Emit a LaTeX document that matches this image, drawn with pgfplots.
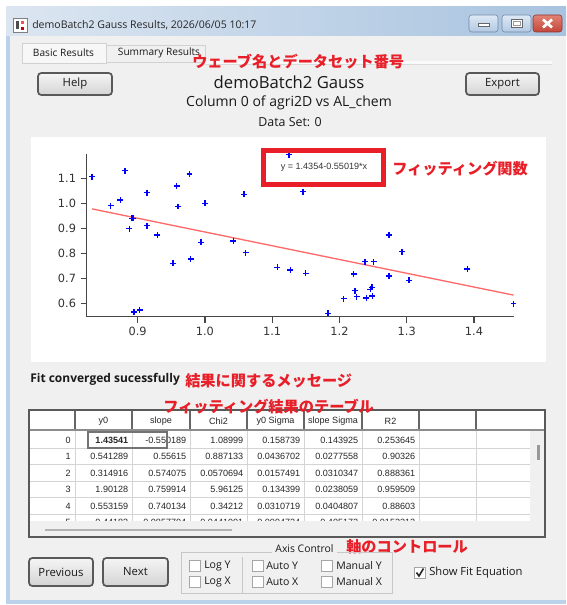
\documentclass[border=0pt]{standalone}
\usepackage{pgfplots}
\pgfplotsset{compat=1.18}
\usepackage{fontspec}
\setmainfont{Liberation Sans}
\newfontfamily\ui{Open Sans}
\newfontfamily\jp{Noto Sans CJK JP}
\newfontfamily\dv{DejaVu Sans}
\definecolor{jred}{RGB}{232,30,40}
\definecolor{bodybg}{RGB}{240,240,240}
\definecolor{frameblue}{RGB}{188,210,234}
\definecolor{titleL}{RGB}{220,230,241}
\definecolor{titleR}{RGB}{168,195,223}
\definecolor{btnB}{RGB}{110,135,165}
\definecolor{btnT}{RGB}{222,233,245}
\definecolor{btnBot}{RGB}{178,200,226}
\definecolor{clsB}{RGB}{140,50,45}
\definecolor{clsT}{RGB}{225,130,115}
\definecolor{clsBot}{RGB}{195,70,60}
\definecolor{ptblue}{RGB}{0,0,255}
\definecolor{fitred}{RGB}{255,105,105}
\definecolor{uitext}{RGB}{25,25,25}
\definecolor{axgray}{RGB}{70,70,70}
\newcommand{\fz}[1]{\fontsize{#1}{#1}\selectfont}
\newcommand{\jptext}[3]{\node[anchor=west,inner sep=0,text=jred,font=\jp\bfseries\fz{11.4pt}] at (#1,#2) {#3};}
\newcommand{\trow}[8]{%
  \node[anchor=east] at (71,#2) {#1};
  \node[anchor=east] at (128.5,#2) {#3};
  \node[anchor=east] at (186.5,#2) {#4};
  \node[anchor=east] at (243.5,#2) {#5};
  \node[anchor=east] at (300.5,#2) {#6};
  \node[anchor=east] at (358.5,#2) {#7};
  \node[anchor=east] at (415.5,#2) {#8};}
\newcommand{\cbox}[2]{\draw[fill=white,draw=black!35,line width=0.75pt] (#1,#2) rectangle ++(11,11);}
\newcommand{\uibutton}[5]{%
  \draw[rounded corners=2.5pt, line width=1.3pt, draw=black!65, top color=black!4, bottom color=black!17] (#1,#2) rectangle (#3,#4);
  \node[font=\ui\fz{8.5pt},text=uitext,inner sep=0] at ({(#1+#3)/2},{(#2+#4)/2}) {#5};}
\begin{document}
\begin{tikzpicture}
\useasboundingbox (0pt,0pt) rectangle (424.5pt,-453.75pt);
\begin{scope}[x=0.75pt,y=-0.75pt]
\fill[white] (0,0) rectangle (566,605);
% window frame
\fill[frameblue] (6,7) rectangle (566,604);
\shade[left color=titleL, right color=titleR] (6,7) rectangle (566,36);
\fill[bodybg] (10,36) rectangle (566,600);
% icon
\draw[fill=white,draw=black!50,line width=0.6pt] (13,18) rectangle (27,32);
\fill[black!70] (16,21) rectangle (19,29);
\fill[red!80!black] (21,27) rectangle (24,30);
\fill[red!70] (21,21) rectangle (24,24);
\node[anchor=west,inner sep=0,font=\ui\fz{7.9pt},text=black!85] at (32,25) {demoBatch2 Gauss Results, 2026/06/05 10:17};
% window buttons
\draw[rounded corners=2pt,draw=btnB,top color=btnT,bottom color=btnBot] (469,15) rectangle (498,32);
\draw[draw=black!60,fill=white,line width=0.5pt] (478,23) rectangle (489,26.5);
\draw[rounded corners=2pt,draw=btnB,top color=btnT,bottom color=btnBot] (502,15) rectangle (531,32);
\draw[draw=black!60,fill=white,line width=0.5pt] (511,19.5) rectangle (522,27.5);
\draw[draw=black!40,line width=0.6pt] (513,21.5) rectangle (520,25.5);
\draw[rounded corners=2pt,draw=clsB,top color=clsT,bottom color=clsBot] (533,15) rectangle (562,32);
\draw[white,line width=2pt] (543,19.5) -- (552,27.5) (543,27.5) -- (552,19.5);
% tabs
\draw[fill=black!3,draw=black!18] (22,43) rectangle (106,63);
\draw[fill=bodybg,draw=black!18] (106,45) rectangle (205,62);
\node[font=\ui\fz{7.6pt},text=uitext,inner sep=0] at (63.5,52.5) {Basic Results};
\node[font=\ui\fz{7.6pt},text=uitext,inner sep=0] at (159,53) {Summary Results};
\fill[black!2] (205,61) rectangle (552,64);
\draw[black!14,line width=0.5pt] (205,64.5) -- (552,64.5);
% header buttons and titles
\uibutton{38}{73}{112}{95}{Help}
\uibutton{466}{73}{539}{95}{Export}
\node[font=\ui\fz{12.5pt},text=uitext,inner sep=0] at (289,82) {demoBatch2 Gauss};
\node[font=\ui\fz{10.5pt},text=uitext,inner sep=0] at (289,103) {Column 0 of agri2D vs AL\_chem};
\node[font=\ui\fz{9.3pt},text=uitext,inner sep=0] at (290,122) {Data Set: 0};
% plot area
\fill[white] (31,137) rectangle (546,362);
\end{scope}

\begin{axis}[
  at={(65.03pt,-237.53pt)}, anchor=south west,
  scale only axis, width=320.1pt, height=122.0pt,
  xmin=0.8242, xmax=1.4588, ymin=0.5464, ymax=1.197,
  axis lines=left, axis line style={-, line width=1pt, draw=axgray},
  xtick={0.9,1.0,1.1,1.2,1.3,1.4}, ytick={0.6,0.7,0.8,0.9,1.0,1.1},
  tick align=outside, major tick length=4.5pt,
  every tick/.style={line width=1pt, axgray},
  minor tick num=0,
  /pgf/number format/assume math mode=true,
  xticklabel style={/pgf/number format/.cd, fixed, fixed zerofill, precision=1},
  yticklabel style={/pgf/number format/.cd, fixed, fixed zerofill, precision=1},
  tick label style={font=\dv\fz{8.5pt}, text=black!80},
  clip=false,
]
\addplot[fitred, line width=1pt, no marks] coordinates {(0.832,0.97766) (1.4587,0.63283)};
\addplot[only marks, mark=+, mark size=2.2pt, draw=ptblue, color=ptblue, mark options={draw=ptblue, solid, line width=1pt}] coordinates {
(0.832,1.106) (0.881,1.130) (0.860,0.990) (0.874,1.013) (0.8915,0.940) (0.8935,0.940)
(0.8875,0.898) (0.914,1.042) (0.914,0.910) (0.929,0.873) (0.8945,0.565) (0.903,0.573)
(0.958,1.069) (0.960,0.987) (0.977,1.117) (0.9525,0.760) (0.979,0.777) (0.994,0.844)
(1.000,1.000) (1.125,1.194) (1.058,1.036) (1.146,1.046) (1.042,0.849) (1.0605,0.802)
(1.1074,0.744) (1.127,0.733) (1.150,0.720) (1.183,0.560) (1.221,0.717) (1.238,0.766)
(1.251,0.766) (1.2065,0.618) (1.223,0.650) (1.2255,0.626) (1.240,0.621) (1.246,0.656)
(1.2485,0.664) (1.249,0.629) (1.2735,0.873) (1.293,0.806) (1.2735,0.709) (1.3036,0.692)
(1.390,0.737) (1.4587,0.598)};
\end{axis}

\begin{scope}[x=0.75pt,y=-0.75pt]
% equation and red box
\node[font=\fz{6.8pt},text=black!80,inner sep=0] at (324,167.5) {y = 1.4354-0.55019*x};
\draw[jred,line width=3.75pt] (263.5,150.5) rectangle (383,185);
% red annotations
\jptext{192}{62}{ウェーブ名とデータセット番号}
\jptext{392}{169}{フィッティング関数}
\jptext{185}{381}{結果に関するメッセージ}
\jptext{346}{547}{軸のコントロール}
\node[anchor=west,inner sep=0,font=\ui\bfseries\fz{9pt},text=uitext] at (30,379) {Fit converged sucessfully};
% table
\fill[white] (29,410) rectangle (545,537);
\foreach \xx in {75,132,190,247,304,362,419,476} {
  \draw[black!17,line width=0.6pt] (\xx,430) -- (\xx,521);
  \draw[black!60,line width=0.9pt] (\xx,410) -- (\xx,430);
}
\foreach \yy in {448,464.5,481,497.5,514} {\draw[black!17,line width=0.6pt] (30,\yy) -- (530,\yy);}
\draw[black!45,line width=0.9pt] (29,430) -- (545,430);
\begin{scope}[every node/.style={font=\fz{6.8pt},text=black!85,inner sep=0}]
\node at (103.5,421.5) {y0};
\node at (161,421.5) {slope};
\node at (218.5,421.5) {Chi2};
\node at (275.5,421.5) {y0 Sigma};
\node at (333,421.5) {slope Sigma};
\node at (390.5,421.5) {R2};
\trow{0}{440}{\textbf{1.43541}}{-0.550189}{1.08999}{0.158739}{0.143925}{0.253645}
\trow{1}{456.5}{0.541289}{0.55615}{0.887133}{0.0436702}{0.0277558}{0.90326}
\trow{2}{473}{0.314916}{0.574075}{0.0570694}{0.0157491}{0.0310347}{0.888361}
\trow{3}{489.5}{1.90128}{0.759914}{5.96125}{0.134399}{0.0238059}{0.959509}
\trow{4}{506}{0.553159}{0.740134}{0.34212}{0.0310719}{0.0404807}{0.88603}
\begin{scope}
\clip (30,514) rectangle (530,520.5);
\trow{5}{522.5}{0.44183}{0.0857704}{0.0441901}{0.0094724}{0.405172}{0.0152312}
\end{scope}
\end{scope}
\draw[black!55,line width=1.5pt] (88,431.5) rectangle (167,447.5);
% scrollbars
\fill[bodybg] (530,431) rectangle (544,536);
\draw[black!40,line width=2.5pt] (538.5,445) -- (538.5,460);
\fill[bodybg] (30,521) rectangle (530,536);
\draw[black!30,line width=1.5pt] (45,529.5) -- (232,529.5);
\draw[black!65,line width=1.5pt] (29,410) rectangle (545,537);
\jptext{163}{407}{フィッティング結果のテーブル}
% bottom controls
\uibutton{29}{558}{93}{586}{Previous}
\uibutton{103}{558}{168}{586}{Next}
\draw[black!22,line width=0.75pt] (272,552) -- (181,552) -- (181,593) -- (392,593) -- (392,552) -- (337,552);
\draw[black!22,line width=0.75pt] (242,557) -- (242,593);
\node[font=\ui\fz{7.8pt},text=uitext,inner sep=0] at (304.5,548.5) {Axis Control};
\begin{scope}[every node/.style={font=\ui\fz{7.9pt},text=uitext,inner sep=0,anchor=west}]
\cbox{189}{560.5}\node at (204,566) {Log Y};
\cbox{189}{576.5}\node at (204,582) {Log X};
\cbox{252}{560.5}\node at (266,566) {Auto Y};
\cbox{252}{576.5}\node at (266,582) {Auto X};
\cbox{321}{560.5}\node at (336,566) {Manual Y};
\cbox{321}{576.5}\node at (336,582) {Manual X};
\end{scope}
\cbox{414}{567}
\draw[black!85,line width=1.2pt] (416.5,572.5) -- (419,576) -- (423.5,568.5);
\node[anchor=west,font=\ui\fz{8.4pt},text=uitext,inner sep=0] at (429,572.5) {Show Fit Equation};
\end{scope}
\end{tikzpicture}
\end{document}
